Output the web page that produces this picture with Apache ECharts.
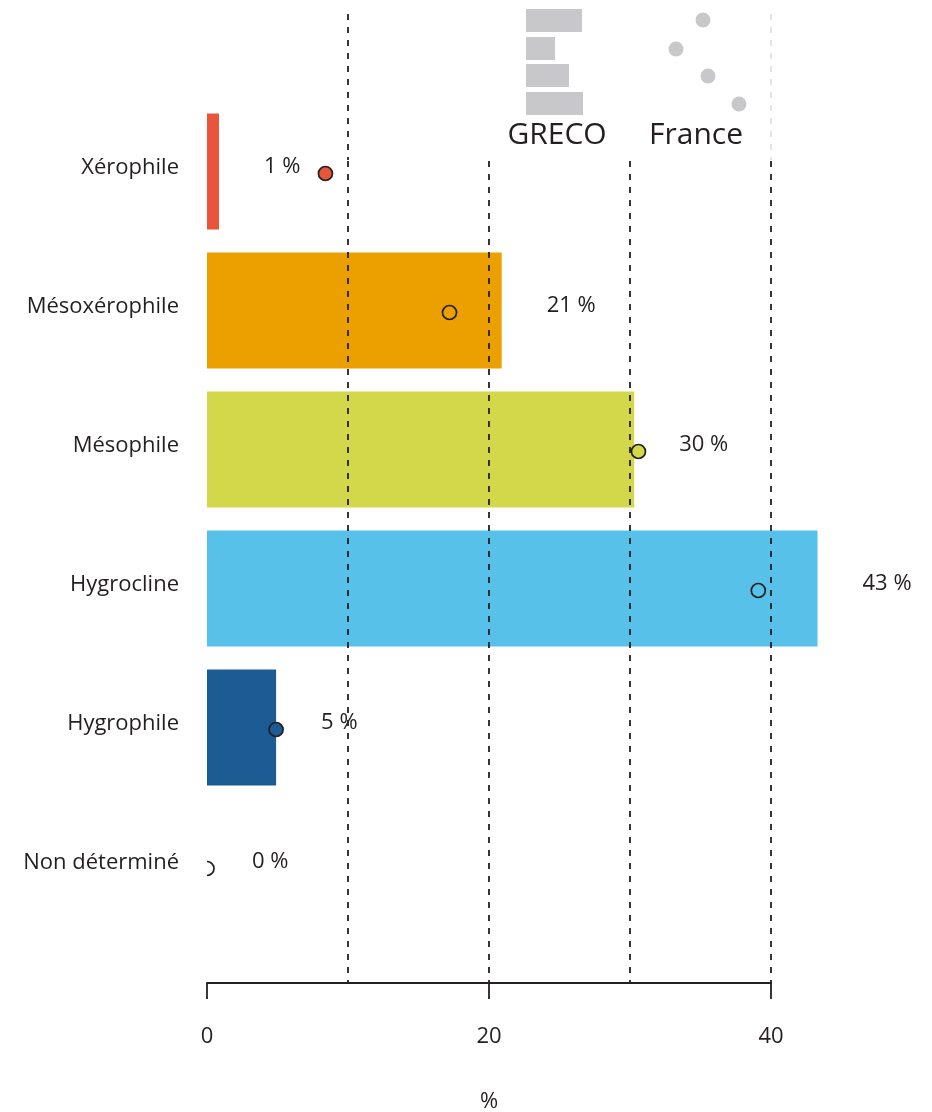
<!DOCTYPE html>
<html>
<head>
<meta charset="utf-8">
<script src="https://cdn.jsdelivr.net/npm/echarts@6/dist/echarts.min.js"></script>
<style>
html,body{margin:0;padding:0;background:#fff;}
#chart{width:932px;height:1112px;}
</style>
</head>
<body>
<div id="chart"></div>
<script>
const categories = ['Xérophile', 'Mésoxérophile', 'Mésophile', 'Hygrocline', 'Hygrophile', 'Non déterminé'];
const grecoValues = [0.85, 20.9, 30.3, 43.3, 4.9, 0];
const franceValues = [8.4, 17.2, 30.6, 39.1, 4.9, 0];
const categoryColors = ['#e8553a', '#eca000', '#d2d84a', '#57c1ea', '#1d5b95', '#ffffff'];
const xTickLabels = [0, 20, 40];
const axisName = '%';
const legendNames = ['GRECO', 'France'];

const FONT = '"Open Sans", "Noto Sans", sans-serif';
const TEXT = '#231f20';
const dash = [6, 7];
const xMin = 0, xMax = 40;

const chart = echarts.init(document.getElementById('chart'), null, {renderer: 'canvas'});

const legendGrey = '#c8c8ca';
const option = {
  animation: false,
  backgroundColor: '#ffffff',
  grid: [
    {left: 207, right: 161, top: 102, bottom: 176, outerBoundsMode: 'none', containLabel: false},
    {left: 207, right: 161, top: 161, bottom: 129, outerBoundsMode: 'none', containLabel: false},
    {left: 207, right: 161, top: 14, bottom: 952, outerBoundsMode: 'none', containLabel: false}
  ],
  xAxis: [
    {gridIndex: 0, type: 'value', min: xMin, max: xMax, show: false},
    {
      gridIndex: 1, type: 'value', min: xMin, max: xMax, interval: 20, position: 'bottom',
      axisLine: {show: true, lineStyle: {color: TEXT, width: 1.8}},
      axisTick: {show: true, length: 16, lineStyle: {color: TEXT, width: 1.8}},
      axisLabel: {show: true, margin: 43, fontSize: 22, fontFamily: FONT, color: TEXT,
        formatter: v => xTickLabels.indexOf(v) >= 0 ? String(v) : ''},
      splitLine: {show: false},
      name: axisName, nameLocation: 'middle', nameGap: 108,
      nameTextStyle: {fontSize: 22, fontFamily: FONT, color: TEXT}
    },
    {
      gridIndex: 1, type: 'value', min: xMin, max: xMax, interval: 10, position: 'top', z: 5,
      axisLine: {show: false}, axisTick: {show: false}, axisLabel: {show: false},
      splitLine: {show: true, showMinLine: false, showMaxLine: true,
        lineStyle: {color: TEXT, width: 1.8, type: dash}}
    },
    {
      gridIndex: 2, type: 'value', min: xMin, max: xMax, interval: 10, position: 'top', z: 5,
      axisLine: {show: false}, axisTick: {show: false}, axisLabel: {show: false},
      splitLine: {show: true, showMinLine: false, showMaxLine: true,
        lineStyle: {color: [TEXT, 'rgba(0,0,0,0)', 'rgba(0,0,0,0)', '#e2e2e2'], width: 1.8, type: dash}}
    }
  ],
  yAxis: [
    {
      gridIndex: 0, type: 'category', data: categories, inverse: true,
      axisLine: {show: false}, axisTick: {show: false}, splitLine: {show: false},
      axisLabel: {margin: 28, fontSize: 22, fontFamily: FONT, color: TEXT,
        verticalAlign: 'bottom', lineHeight: 8}
    },
    {gridIndex: 1, type: 'value', show: false},
    {gridIndex: 2, type: 'value', show: false}
  ],
  series: [
    {
      name: legendNames[0], type: 'bar', xAxisIndex: 0, yAxisIndex: 0, clip: false,
      barWidth: '83.5%', z: 2,
      data: grecoValues.map((v, i) => ({value: v, itemStyle: {color: categoryColors[i]}})),
      label: {
        show: true, position: 'right', distance: 45, offset: [0, -5],
        fontSize: 22, fontFamily: FONT, color: TEXT,
        formatter: p => Math.round(p.value) + ' %'
      }
    },
    {
      name: legendNames[1], type: 'custom', xAxisIndex: 0, yAxisIndex: 0, clip: true, z: 10,
      data: franceValues.map((v, i) => [v, i]),
      renderItem: (params, api) => {
        const p = api.coord([api.value(0), api.value(1)]);
        const i = params.dataIndex;
        return {
          type: 'circle',
          shape: {cx: p[0], cy: p[1] + 2, r: 7},
          style: {fill: categoryColors[i], stroke: TEXT, lineWidth: 1.7}
        };
      }
    }
  ],
  graphic: [
    {type: 'rect', shape: {x: 526, y: 9, width: 56, height: 23}, style: {fill: legendGrey}},
    {type: 'rect', shape: {x: 526, y: 37, width: 29, height: 23}, style: {fill: legendGrey}},
    {type: 'rect', shape: {x: 526, y: 64, width: 43, height: 23}, style: {fill: legendGrey}},
    {type: 'rect', shape: {x: 526, y: 92, width: 57, height: 23}, style: {fill: legendGrey}},
    {type: 'circle', shape: {cx: 703, cy: 20, r: 7.5}, style: {fill: legendGrey}},
    {type: 'circle', shape: {cx: 676, cy: 49, r: 7.5}, style: {fill: legendGrey}},
    {type: 'circle', shape: {cx: 708, cy: 76, r: 7.5}, style: {fill: legendGrey}},
    {type: 'circle', shape: {cx: 739, cy: 104, r: 7.5}, style: {fill: legendGrey}},
    {type: 'text', x: 557, y: 135, style: {text: legendNames[0], fill: TEXT, font: '30px ' + FONT, textAlign: 'center', textVerticalAlign: 'middle'}},
    {type: 'text', x: 696, y: 135, style: {text: legendNames[1], fill: TEXT, font: '30px ' + FONT, textAlign: 'center', textVerticalAlign: 'middle'}}
  ]
};
chart.setOption(option);
</script>
</body>
</html>
